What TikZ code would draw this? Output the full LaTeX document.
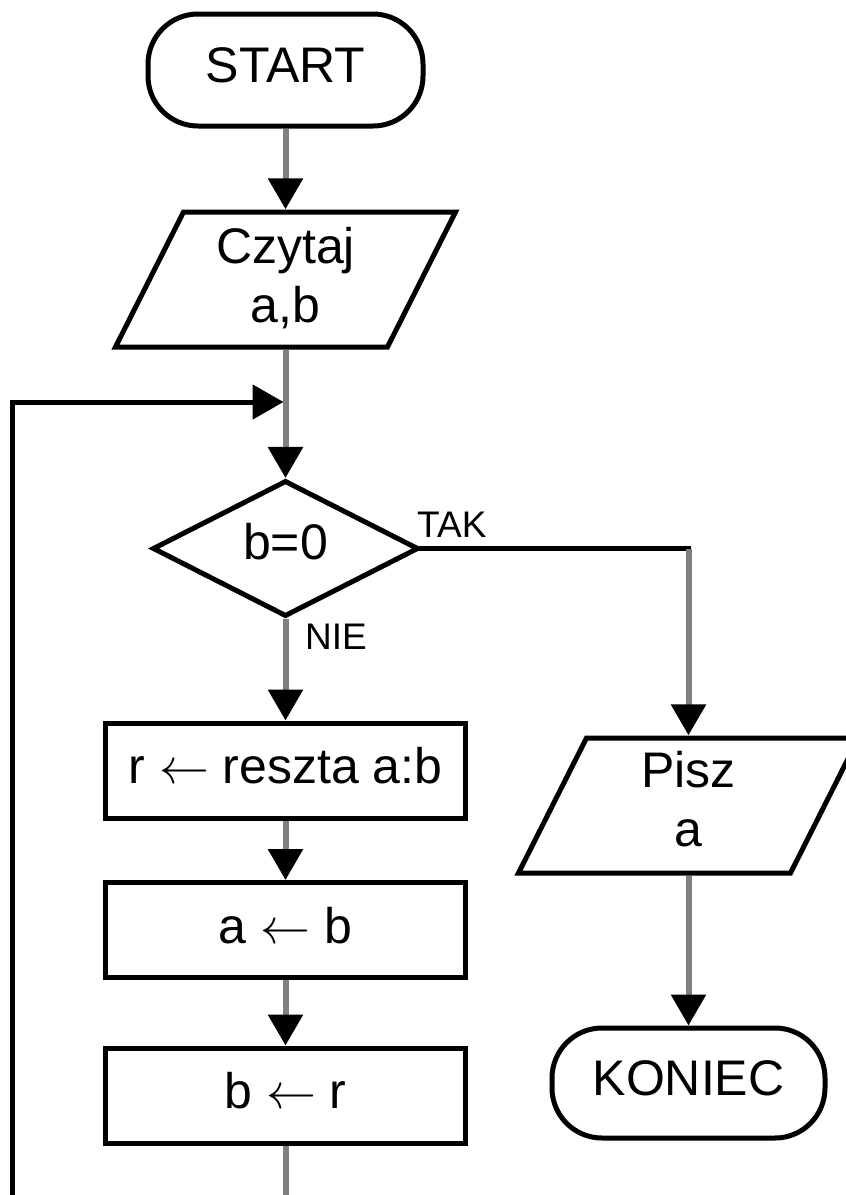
\documentclass[tikz,border=0pt]{standalone}
\usepackage{fontspec}
\setmainfont{Liberation Sans}
\usetikzlibrary{arrows.meta,shapes.geometric,calc}
\newcommand\ioshape[1]{%
  \draw[outline] ($(#1.center)+(-102,-67.5)$) -- ($(#1.center)+(170,-67.5)$)
    -- ($(#1.center)+(102,67.5)$) -- ($(#1.center)+(-170,67.5)$) -- cycle;}
\newcommand\asg{\scalebox{5}{\fontsize{10}{12}\selectfont$\leftarrow$}}
\begin{document}
\begin{tikzpicture}[x=1pt,y=-1pt,
  every node/.style={inner sep=0pt},
  txt/.style={font=\fontsize{50}{59}\selectfont},
  outline/.style={draw=black, line width=5pt, line join=miter},
  term/.style={txt, outline, rounded corners=50pt, minimum width=275pt, minimum height=112pt, text depth=10pt},
  proc/.style={txt, outline, minimum width=360pt, minimum height=95pt, text depth=10pt},
  dec/.style={txt, outline, diamond, minimum width=266pt, minimum height=133pt, text depth=15pt},
  iobox/.style={txt, align=center, minimum width=272pt, minimum height=140pt},
  lbl/.style={font=\fontsize{37}{44}\selectfont, anchor=base west},
  tip/.style={-{Triangle[width=34pt,length=31pt,color=black]}},
  vline/.style={draw=black!50, line width=6pt},
  hline/.style={draw=black, line width=5pt},
]
\useasboundingbox (0,0) rectangle (846,1195);
\clip (0,0) rectangle (846,1195);

% nodes
\node[term] (start) at (285.5,70) {START};
\node[iobox] (czyt) at (285.5,279.5) {Czytaj\\a,b\rule[-9pt]{0pt}{9pt}};
\ioshape{czyt}
\coordinate (join) at (283.5,402);
\node[dec] (dia) at (285.5,548.5) {b=0};
\node[lbl] (tak) at (417,537) {TAK};
\node[lbl] (nie) at (305,649) {NIE};
\node[proc] (r) at (285.5,770.5) {r \asg{} reszta a:b};
\node[proc] (a) at (285.5,930) {a \asg{} b};
\node[proc] (b) at (285.5,1095.5) {b \asg{} r};
\node[iobox] (pisz) at (688.5,805.5) {Pisz\\a\rule[-14pt]{0pt}{14pt}};
\ioshape{pisz}
\node[term, minimum width=273pt, minimum height=110pt] (koniec) at (688.5,1083) {KONIEC};
\coordinate (takc) at (688.5,548.5);
\coordinate (loopb) at (285.5,1200);
\coordinate (loopc) at (12,1240);

% connectors
\draw[vline,tip] (start.south) -- (czyt.north);
\draw[vline,tip] (czyt.south) -- (dia.north);
\draw[vline] (b.south) -- (loopb);
\draw[hline,tip] (loopb) |- (loopc) |- (join);
\draw[vline,tip] (dia.south) -- (r.north);
\draw[vline,tip] (r.south) -- (a.north);
\draw[vline,tip] (a.south) -- (b.north);
\draw[hline,line cap=rect] (dia.east) -- (takc);
\draw[vline,tip] (takc) -- (pisz.north);
\draw[vline,tip] (pisz.south) -- (koniec.north);
\end{tikzpicture}
\end{document}
